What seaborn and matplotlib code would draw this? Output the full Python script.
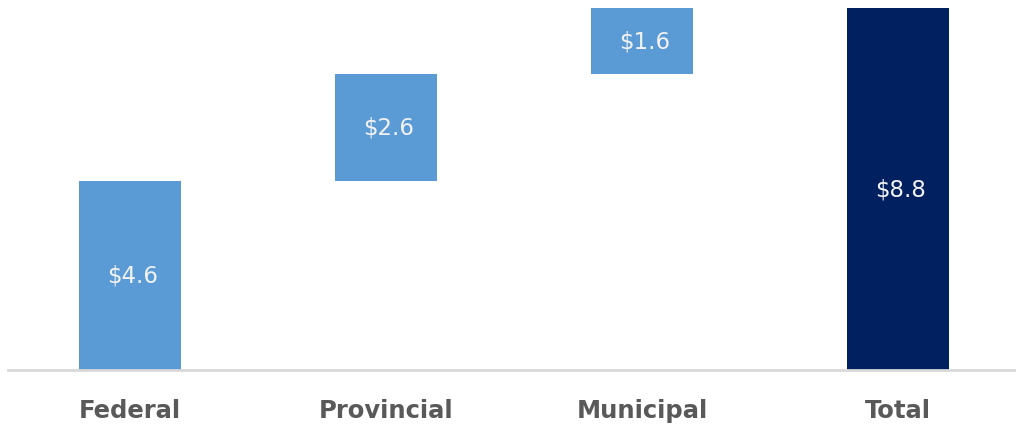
import matplotlib
matplotlib.use("Agg")
import matplotlib.pyplot as plt
import seaborn as sns
import pandas as pd

categories = ["Federal", "Provincial", "Municipal", "Total"]
values = [4.6, 2.6, 1.6, 8.8]
bases = [0.0, 4.6, 7.2, 0.0]
labels = ["$4.6", "$2.6", "$1.6", "$8.8"]
colors = ["#5B9BD5", "#5B9BD5", "#5B9BD5", "#002060"]

df = pd.DataFrame({"cat": categories, "val": values, "base": bases})

sns.set_theme(style="white")
plt.rcParams["font.family"] = ["DejaVu Sans"]

W, H = 1016, 427
fig = plt.figure(figsize=(W / 100, H / 100), dpi=100)
ax = fig.add_axes([8 / W, (H - 371) / H, 1008 / W, 362 / H])

sns.barplot(data=df, x="cat", y="val", color=colors[0], bottom=df["base"].to_numpy(),
            width=0.4, ax=ax, saturation=1, edgecolor="none")
for patch, c in zip(ax.patches, colors):
    patch.set_facecolor(c)

for i, (v, b, lab) in enumerate(zip(values, bases, labels)):
    ax.text(i + 0.01, b + v / 2, lab, ha="center", va="center", color="#F2F2F2",
            fontsize=16.5)

ax.set_xlim((8 - 130) / 256, (1016 - 130) / 256)
ax.set_ylim(0, 8.8)
ax.set_xlabel("")
ax.set_ylabel("")
ax.set_yticks([])
for s in ["top", "right", "left"]:
    ax.spines[s].set_visible(False)
ax.spines["bottom"].set_color("#D9D9D9")
ax.spines["bottom"].set_linewidth(2)
ax.tick_params(axis="x", length=0, pad=20)
for t in ax.get_xticklabels():
    t.set_fontsize(17.5)
    t.set_fontweight("bold")
    t.set_color("#595959")

fig.savefig("out.png", dpi=100)
